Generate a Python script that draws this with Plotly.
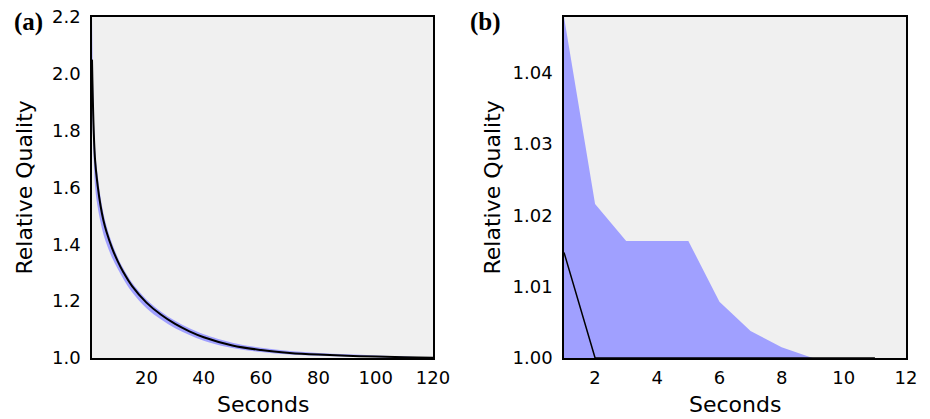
import plotly.graph_objects as go

# Panel (a): full run, relative quality over 120 s
secs_a = [1, 2, 3, 4, 5, 6, 8, 10, 12, 15, 20, 25, 30, 35, 40, 50, 60, 70, 80, 90, 100, 110, 120]
mean_a = [2.05, 1.707, 1.605, 1.535, 1.484, 1.446, 1.387, 1.340, 1.301, 1.253, 1.195, 1.153, 1.12,
          1.094, 1.073, 1.044, 1.028, 1.018, 1.012, 1.008, 1.005, 1.003, 1.001]
upper_a = [2.2, 1.75, 1.643, 1.565, 1.509, 1.467, 1.404, 1.354, 1.314, 1.265, 1.206, 1.164, 1.131,
           1.105, 1.084, 1.054, 1.036, 1.025, 1.018, 1.013, 1.009, 1.005, 1.001]
lower_a = [1.95, 1.612, 1.53, 1.477, 1.435, 1.404, 1.353, 1.313, 1.277, 1.231, 1.175, 1.136, 1.105,
           1.081, 1.061, 1.035, 1.021, 1.012, 1.008, 1.005, 1.003, 1.001, 1.0]

# Panel (b): first seconds of the run
secs_b = [1, 2, 3, 4, 5, 6, 7, 8, 9, 10, 11]
mean_b = [1.0148, 1.0, 1.0, 1.0, 1.0, 1.0, 1.0, 1.0, 1.0, 1.0, 1.0]
upper_b = [1.0478, 1.0216, 1.0164, 1.0164, 1.0164, 1.0079, 1.0038, 1.0015, 1.0, 1.0, 1.0]
lower_b = [1.0, 1.0, 1.0, 1.0, 1.0, 1.0, 1.0, 1.0, 1.0, 1.0, 1.0]

xticks_a = [20, 40, 60, 80, 100, 120]
yticks_a = [1.0, 1.2, 1.4, 1.6, 1.8, 2.0, 2.2]
xticks_b = [2, 4, 6, 8, 10, 12]
yticks_b = [1.00, 1.01, 1.02, 1.03, 1.04]

BAND = "#a0a0ff"
BG = "#f0f0f0"
FONT = "DejaVu Sans"

fig = go.Figure()

# band + mean for (a)
fig.add_trace(go.Scatter(x=secs_a, y=lower_a, mode="lines", line=dict(width=0, shape="spline"),
                         xaxis="x", yaxis="y", showlegend=False, hoverinfo="skip"))
fig.add_trace(go.Scatter(x=secs_a, y=upper_a, mode="lines", line=dict(width=0, shape="spline"),
                         fill="tonexty", fillcolor=BAND, xaxis="x", yaxis="y", showlegend=False))
fig.add_trace(go.Scatter(x=secs_a, y=mean_a, mode="lines", line=dict(color="black", width=2, shape="spline"),
                         xaxis="x", yaxis="y", showlegend=False))

# band + mean for (b)
fig.add_trace(go.Scatter(x=secs_b, y=lower_b, mode="lines", line=dict(width=0),
                         xaxis="x2", yaxis="y2", showlegend=False, hoverinfo="skip"))
fig.add_trace(go.Scatter(x=secs_b, y=upper_b, mode="lines", line=dict(width=0),
                         fill="tonexty", fillcolor=BAND, xaxis="x2", yaxis="y2", showlegend=False))
fig.add_trace(go.Scatter(x=secs_b, y=mean_b, mode="lines", line=dict(color="black", width=1.5),
                         xaxis="x2", yaxis="y2", showlegend=False))

W, H = 930, 419
ax_common = dict(showline=True, linecolor="black", linewidth=1.5, mirror=True, showgrid=False,
                 zeroline=False, ticks="", automargin=False,
                 tickfont=dict(family=FONT, size=18, color="black"))
x_common = dict(ticklabelstandoff=3, **ax_common)
y_common = dict(ticklabelstandoff=6, **ax_common)

fig.update_layout(
    width=W, height=H, margin=dict(l=0, r=0, t=0, b=0, pad=0),
    paper_bgcolor="white", plot_bgcolor=BG,
    xaxis=dict(domain=[92 / W, 433 / W], range=[1, 120], tickvals=xticks_a, anchor="y", **x_common),
    yaxis=dict(domain=[(H - 358) / H, (H - 17) / H], range=[1.0, 2.2], tickvals=yticks_a,
               tickformat=".1f", anchor="x", **y_common),
    xaxis2=dict(domain=[564 / W, 906 / W], range=[1, 12], tickvals=xticks_b, anchor="y2", **x_common),
    yaxis2=dict(domain=[(H - 358) / H, (H - 17) / H], range=[1.0, max(upper_b)], tickvals=yticks_b,
                tickformat=".2f", anchor="x2", **y_common),
)

title_font = dict(family=FONT, size=22, color="black")
label_font = dict(family="Liberation Serif", size=25, color="black")
annotations = [
    dict(text="Seconds", x=262.5 / W, y=(H - 404) / H, font=title_font),
    dict(text="Seconds", x=735 / W, y=(H - 404) / H, font=title_font),
    dict(text="Relative Quality", x=24 / W, y=(H - 187.5) / H, textangle=-90, font=title_font),
    dict(text="Relative Quality", x=492 / W, y=(H - 187.5) / H, textangle=-90, font=title_font),
    dict(text="<b>(a)</b>", x=28 / W, y=(H - 22) / H, font=label_font),
    dict(text="<b>(b)</b>", x=485 / W, y=(H - 22) / H, font=label_font),
]
for a in annotations:
    fig.add_annotation(xref="paper", yref="paper", showarrow=False, xanchor="center", yanchor="middle", **a)

fig.write_html("out.html", post_script="document.body.style.margin='0';")
